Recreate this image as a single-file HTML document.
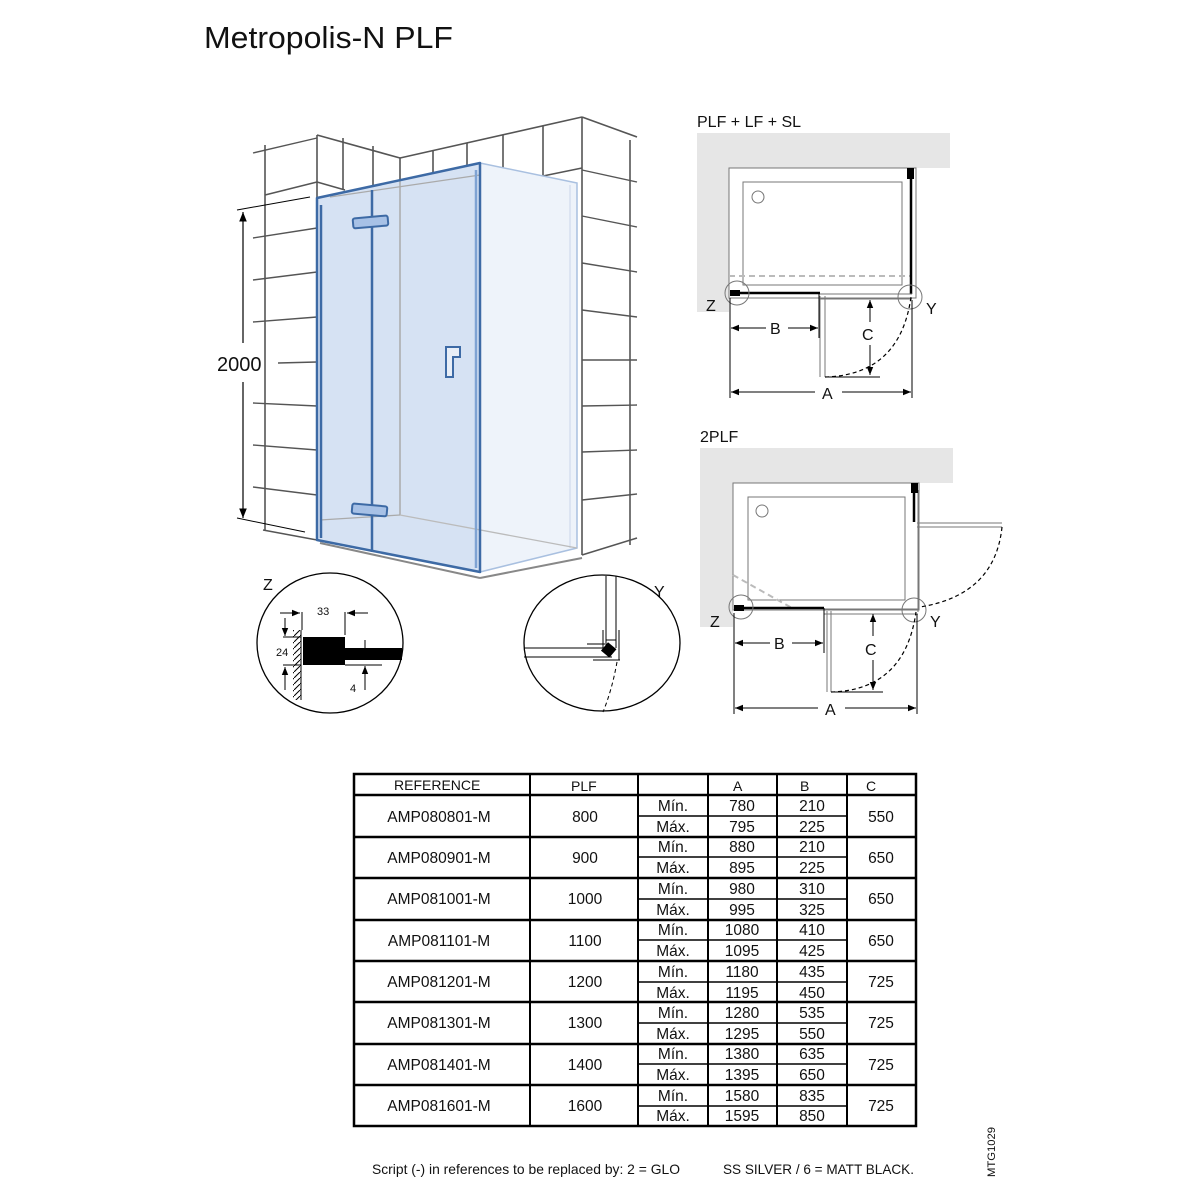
<!DOCTYPE html>
<html><head><meta charset="utf-8"><style>
html,body{margin:0;padding:0;background:#fff}
svg{display:block}
text{font-family:"Liberation Sans",sans-serif;fill:#111}
</style></head><body>
<svg width="1200" height="1200" viewBox="0 0 1200 1200" xmlns="http://www.w3.org/2000/svg">
<defs>
<marker id="ar" viewBox="0 0 10 10" refX="10" refY="5" markerWidth="8" markerHeight="8" orient="auto-start-reverse"><path d="M0,1 L10,5 L0,9 z" fill="#000"/></marker>
<pattern id="hatch" width="6" height="6" patternUnits="userSpaceOnUse"><path d="M0,6 L6,0" stroke="#000" stroke-width="1"/></pattern>
</defs>
<rect width="1200" height="1200" fill="#fff"/>
<text x="204" y="48" font-size="31" textLength="249" lengthAdjust="spacingAndGlyphs">Metropolis-N PLF</text>

<g stroke="#555" stroke-width="1.6" fill="none">
<line x1="265" y1="145" x2="265" y2="530"/>
<line x1="317" y1="135" x2="317" y2="198"/>
<line x1="343" y1="138" x2="343" y2="190"/>
<line x1="373" y1="146" x2="373" y2="186"/>
<line x1="400" y1="158" x2="400" y2="180"/>
<line x1="317" y1="135" x2="400" y2="158"/>
<line x1="265" y1="195" x2="317" y2="182"/>
<line x1="317" y1="182" x2="345" y2="190"/>
<line x1="400" y1="158" x2="582" y2="117"/>
<line x1="433" y1="150" x2="433" y2="175"/>
<line x1="467" y1="143" x2="467" y2="170"/>
<line x1="503" y1="135" x2="503" y2="168"/>
<line x1="543" y1="126" x2="543" y2="176"/>
<line x1="543" y1="176" x2="582" y2="168"/>
<line x1="582" y1="117" x2="582" y2="555"/>
<line x1="582" y1="117" x2="637" y2="137"/>
<line x1="630" y1="140" x2="630" y2="545"/>
<line x1="582" y1="555" x2="637" y2="538"/>
</g>
<g stroke="#555" stroke-width="1.4">
<line x1="253" y1="153" x2="317" y2="138"/>
<line x1="253" y1="238" x2="317" y2="228"/>
<line x1="253" y1="280" x2="317" y2="272"/>
<line x1="253" y1="322" x2="317" y2="317"/>
<line x1="278" y1="363" x2="317" y2="362"/>
<line x1="253" y1="403" x2="317" y2="406"/>
<line x1="253" y1="445" x2="317" y2="450"/>
<line x1="253" y1="487" x2="317" y2="495"/>
<line x1="263" y1="530" x2="317" y2="540"/>
<line x1="582" y1="170" x2="637" y2="182"/>
<line x1="582" y1="216" x2="637" y2="227"/>
<line x1="582" y1="263" x2="637" y2="272"/>
<line x1="582" y1="310" x2="637" y2="317"/>
<line x1="582" y1="360" x2="637" y2="360"/>
<line x1="582" y1="406" x2="637" y2="405"/>
<line x1="582" y1="452" x2="637" y2="450"/>
<line x1="582" y1="500" x2="637" y2="494"/>
</g>
<line x1="243" y1="212" x2="243" y2="343" stroke="#000" stroke-width="1.2" marker-start="url(#ar)"/>
<line x1="243" y1="382" x2="243" y2="518" stroke="#000" stroke-width="1.2" marker-end="url(#ar)"/>
<line x1="237" y1="210" x2="310" y2="197" stroke="#000" stroke-width="1"/>
<line x1="237" y1="518" x2="305" y2="532" stroke="#000" stroke-width="1"/>
<text x="217" y="371" font-size="20">2000</text>

<polygon points="480,163 577,183 577,548 480,572" fill="#eef3fa" stroke="#a9c0e0" stroke-width="1.5"/>
<line x1="570" y1="185" x2="570" y2="548" stroke="#c9d6ea" stroke-width="1"/>
<polygon points="317,198 480,163 480,572 317,540" fill="#d6e2f3"/>
<line x1="400" y1="180" x2="400" y2="515" stroke="#aaa" stroke-width="1.5"/>
<line x1="320" y1="520" x2="400" y2="515" stroke="#aaa" stroke-width="1.3"/>
<line x1="400" y1="515" x2="577" y2="548" stroke="#bbb" stroke-width="1.3"/>
<line x1="330" y1="197" x2="480" y2="175" stroke="#aaa" stroke-width="1.3"/>
<g stroke="#3d6aa5" fill="none" stroke-width="2.5" stroke-linejoin="round">
<polygon points="317,198 480,163 480,572 317,540"/>
<line x1="321" y1="205" x2="321" y2="538"/>
<line x1="372" y1="190" x2="372" y2="552"/>
<line x1="476" y1="170" x2="476" y2="568" stroke="#7fa3d3"/>
</g>
<line x1="320" y1="543" x2="480" y2="578" stroke="#888" stroke-width="2"/>
<line x1="480" y1="578" x2="582" y2="558" stroke="#888" stroke-width="2"/>
<g stroke="#3d6aa5" stroke-width="2" fill="#a7c1e6">
<rect x="353" y="217" width="35" height="10" rx="2" transform="rotate(-5 370 222)"/>
<rect x="352" y="505" width="35" height="10" rx="2" transform="rotate(5 370 510)"/>
<path d="M446,347 h14 v10 h-7 v20 h-7 z" fill="#e8eef7"/>
</g>

<text x="263" y="590" font-size="16">Z</text>
<ellipse cx="330" cy="643" rx="73" ry="70" fill="none" stroke="#000" stroke-width="1.3"/>
<rect x="293" y="630" width="8" height="70" fill="url(#hatch)"/>
<line x1="301" y1="630" x2="301" y2="700" stroke="#000" stroke-width="1"/>
<rect x="303" y="637" width="42" height="28" fill="#000"/>
<rect x="345" y="648" width="57" height="12" fill="#000"/>
<line x1="302" y1="612" x2="302" y2="630" stroke="#000"/>
<line x1="345" y1="612" x2="345" y2="635" stroke="#000"/>
<line x1="280" y1="613" x2="300" y2="613" stroke="#000" marker-end="url(#ar)"/>
<line x1="368" y1="613" x2="347" y2="613" stroke="#000" marker-end="url(#ar)"/>
<text x="317" y="615" font-size="11">33</text>
<line x1="283" y1="637" x2="301" y2="637" stroke="#000"/>
<line x1="283" y1="665" x2="301" y2="665" stroke="#000"/>
<line x1="285" y1="618" x2="285" y2="636" stroke="#000" marker-end="url(#ar)"/>
<line x1="285" y1="690" x2="285" y2="667" stroke="#000" marker-end="url(#ar)"/>
<text x="276" y="656" font-size="11">24</text>
<line x1="345" y1="665" x2="382" y2="665" stroke="#000"/>
<line x1="365" y1="640" x2="365" y2="659" stroke="#000" marker-end="url(#ar)"/>
<line x1="365" y1="690" x2="365" y2="666" stroke="#000" marker-end="url(#ar)"/>
<text x="350" y="692" font-size="11">4</text>

<text x="654" y="597" font-size="16">Y</text>
<ellipse cx="602" cy="643" rx="78" ry="68" fill="none" stroke="#000" stroke-width="1.3"/>
<g stroke="#000" stroke-width="1" fill="none">
<line x1="606" y1="576" x2="606" y2="648"/>
<line x1="616" y1="576" x2="616" y2="648"/>
<line x1="606" y1="640" x2="616" y2="640"/>
<line x1="524" y1="648" x2="608" y2="648"/>
<line x1="524" y1="657" x2="612" y2="657"/>
<line x1="587" y1="644" x2="605" y2="644"/>
<line x1="593" y1="660" x2="620" y2="660"/>
<line x1="603" y1="630" x2="603" y2="650"/>
<line x1="619" y1="630" x2="619" y2="660"/>
<path d="M617,662 Q612,690 603,712" stroke-dasharray="4,3"/>
</g>
<rect x="603" y="644" width="11" height="11" fill="#000" transform="rotate(40 608 650)"/>

<text x="697" y="127" font-size="16">PLF + LF + SL</text>
<path d="M697,133 H950 V168 H729 V312 H697 Z" fill="#e6e6e6"/>
<g fill="none" stroke="#777" stroke-width="1">
<rect x="729" y="168" width="187" height="130"/>
<rect x="743" y="182" width="159" height="103"/>
<circle cx="758" cy="197" r="6"/>
</g>
<line x1="729" y1="276" x2="911" y2="276" stroke="#bbb" stroke-width="2" stroke-dasharray="6,4"/>
<line x1="911" y1="176" x2="911" y2="294" stroke="#000" stroke-width="2.5"/>
<rect x="907" y="168" width="7" height="11" fill="#000"/>
<line x1="735" y1="293" x2="820" y2="293" stroke="#000" stroke-width="2.5"/>
<rect x="730" y="290" width="10" height="6" fill="#000"/>
<g stroke="#777" stroke-width="1" fill="none">
<line x1="820" y1="294" x2="912" y2="294"/>
<line x1="820" y1="299" x2="912" y2="299"/>
<line x1="825" y1="296" x2="825" y2="377"/>
<line x1="820" y1="296" x2="820" y2="377"/>
<circle cx="737" cy="293" r="12"/>
<circle cx="910" cy="297" r="12"/>
</g>
<path d="M825,377 Q900,375 911,297" fill="none" stroke="#000" stroke-dasharray="4,3" stroke-width="1.2"/>
<g stroke="#000" stroke-width="1" fill="none">
<line x1="825" y1="377" x2="880" y2="377"/>
<line x1="870" y1="300" x2="870" y2="322" marker-start="url(#ar)"/>
<line x1="870" y1="345" x2="870" y2="375" marker-end="url(#ar)"/>
<line x1="730" y1="298" x2="730" y2="398"/>
<line x1="912" y1="300" x2="912" y2="398"/>
<line x1="819" y1="293" x2="819" y2="338"/>
<line x1="731" y1="328" x2="766" y2="328" marker-start="url(#ar)"/>
<line x1="788" y1="328" x2="818" y2="328" marker-end="url(#ar)"/>
<line x1="731" y1="392" x2="815" y2="392" marker-start="url(#ar)"/>
<line x1="842" y1="392" x2="911" y2="392" marker-end="url(#ar)"/>
</g>
<text x="770" y="334" font-size="16">B</text>
<text x="862" y="340" font-size="16">C</text>
<text x="822" y="399" font-size="16">A</text>
<text x="706" y="311" font-size="16">Z</text>
<text x="926" y="314" font-size="16">Y</text>

<text x="700" y="442" font-size="16">2PLF</text>
<path d="M700,448 H953 V483 H733 V627 H700 Z" fill="#e6e6e6"/>
<g fill="none" stroke="#777" stroke-width="1">
<rect x="733" y="483" width="186" height="127"/>
<rect x="748" y="497" width="157" height="103"/>
<circle cx="762" cy="511" r="6"/>
<line x1="917" y1="523" x2="1002" y2="523"/>
<line x1="917" y1="527" x2="1002" y2="527"/>
<line x1="918" y1="490" x2="918" y2="612"/>
</g>
<line x1="733" y1="575" x2="792" y2="608" stroke="#bbb" stroke-width="2" stroke-dasharray="6,4"/>
<line x1="914" y1="490" x2="914" y2="522" stroke="#000" stroke-width="2.5"/>
<rect x="911" y="483" width="7" height="10" fill="#000"/>
<line x1="738" y1="608" x2="824" y2="608" stroke="#000" stroke-width="2.5"/>
<rect x="734" y="605" width="10" height="6" fill="#000"/>
<g stroke="#777" stroke-width="1" fill="none">
<line x1="824" y1="609" x2="918" y2="609"/>
<line x1="824" y1="614" x2="918" y2="614"/>
<line x1="827" y1="611" x2="827" y2="692"/>
<line x1="831" y1="611" x2="831" y2="692"/>
<circle cx="741" cy="607" r="12"/>
<circle cx="914" cy="610" r="12"/>
</g>
<path d="M831,692 Q905,690 916,612" fill="none" stroke="#000" stroke-dasharray="4,3" stroke-width="1.2"/>
<path d="M1002,527 Q995,595 920,607" fill="none" stroke="#000" stroke-dasharray="4,3" stroke-width="1.2"/>
<g stroke="#000" stroke-width="1" fill="none">
<line x1="831" y1="692" x2="883" y2="692"/>
<line x1="873" y1="614" x2="873" y2="636" marker-start="url(#ar)"/>
<line x1="873" y1="660" x2="873" y2="690" marker-end="url(#ar)"/>
<line x1="734" y1="613" x2="734" y2="714"/>
<line x1="917" y1="614" x2="917" y2="714"/>
<line x1="824" y1="608" x2="824" y2="653"/>
<line x1="735" y1="643" x2="770" y2="643" marker-start="url(#ar)"/>
<line x1="792" y1="643" x2="823" y2="643" marker-end="url(#ar)"/>
<line x1="735" y1="708" x2="818" y2="708" marker-start="url(#ar)"/>
<line x1="845" y1="708" x2="916" y2="708" marker-end="url(#ar)"/>
</g>
<text x="774" y="649" font-size="16">B</text>
<text x="865" y="655" font-size="16">C</text>
<text x="825" y="715" font-size="16">A</text>
<text x="710" y="627" font-size="16">Z</text>
<text x="930" y="627" font-size="16">Y</text>

<rect x="354" y="774" width="562" height="352" fill="none" stroke="#000" stroke-width="2.5"/>
<g stroke="#000" stroke-width="2">
<line x1="530" y1="774" x2="530" y2="1126"/>
<line x1="638" y1="774" x2="638" y2="1126"/>
<line x1="708" y1="774" x2="708" y2="1126"/>
<line x1="777" y1="774" x2="777" y2="1126"/>
<line x1="847" y1="774" x2="847" y2="1126"/>
<line x1="354" y1="795" x2="916" y2="795" stroke-width="2.5"/>
</g>
<text x="394" y="790" font-size="14">REFERENCE</text>
<text x="571" y="791" font-size="14">PLF</text>
<text x="733" y="791" font-size="14">A</text>
<text x="800" y="791" font-size="14">B</text>
<text x="866" y="791" font-size="14">C</text>
<g font-size="15.5" text-anchor="middle">
<line x1="354" y1="837" x2="916" y2="837" stroke="#000" stroke-width="2.5"/>
<line x1="354" y1="878" x2="916" y2="878" stroke="#000" stroke-width="2.5"/>
<line x1="354" y1="920" x2="916" y2="920" stroke="#000" stroke-width="2.5"/>
<line x1="354" y1="961" x2="916" y2="961" stroke="#000" stroke-width="2.5"/>
<line x1="354" y1="1002" x2="916" y2="1002" stroke="#000" stroke-width="2.5"/>
<line x1="354" y1="1044" x2="916" y2="1044" stroke="#000" stroke-width="2.5"/>
<line x1="354" y1="1085" x2="916" y2="1085" stroke="#000" stroke-width="2.5"/>
<g stroke="#000" stroke-width="1.5">
<line x1="638" y1="816" x2="847" y2="816"/>
<line x1="638" y1="857" x2="847" y2="857"/>
<line x1="638" y1="899" x2="847" y2="899"/>
<line x1="638" y1="940" x2="847" y2="940"/>
<line x1="638" y1="982" x2="847" y2="982"/>
<line x1="638" y1="1023" x2="847" y2="1023"/>
<line x1="638" y1="1064" x2="847" y2="1064"/>
<line x1="638" y1="1106" x2="847" y2="1106"/>
</g>
<text x="439" y="822">AMP080801-M</text><text x="585" y="822">800</text><text x="673" y="811">Mín.</text><text x="673" y="832">Máx.</text><text x="742" y="811">780</text><text x="742" y="832">795</text><text x="812" y="811">210</text><text x="812" y="832">225</text><text x="881" y="822">550</text>
<text x="439" y="863">AMP080901-M</text><text x="585" y="863">900</text><text x="673" y="852">Mín.</text><text x="673" y="873">Máx.</text><text x="742" y="852">880</text><text x="742" y="873">895</text><text x="812" y="852">210</text><text x="812" y="873">225</text><text x="881" y="863">650</text>
<text x="439" y="904">AMP081001-M</text><text x="585" y="904">1000</text><text x="673" y="894">Mín.</text><text x="673" y="915">Máx.</text><text x="742" y="894">980</text><text x="742" y="915">995</text><text x="812" y="894">310</text><text x="812" y="915">325</text><text x="881" y="904">650</text>
<text x="439" y="946">AMP081101-M</text><text x="585" y="946">1100</text><text x="673" y="935">Mín.</text><text x="673" y="956">Máx.</text><text x="742" y="935">1080</text><text x="742" y="956">1095</text><text x="812" y="935">410</text><text x="812" y="956">425</text><text x="881" y="946">650</text>
<text x="439" y="987">AMP081201-M</text><text x="585" y="987">1200</text><text x="673" y="977">Mín.</text><text x="673" y="998">Máx.</text><text x="742" y="977">1180</text><text x="742" y="998">1195</text><text x="812" y="977">435</text><text x="812" y="998">450</text><text x="881" y="987">725</text>
<text x="439" y="1028">AMP081301-M</text><text x="585" y="1028">1300</text><text x="673" y="1018">Mín.</text><text x="673" y="1039">Máx.</text><text x="742" y="1018">1280</text><text x="742" y="1039">1295</text><text x="812" y="1018">535</text><text x="812" y="1039">550</text><text x="881" y="1028">725</text>
<text x="439" y="1070">AMP081401-M</text><text x="585" y="1070">1400</text><text x="673" y="1059">Mín.</text><text x="673" y="1080">Máx.</text><text x="742" y="1059">1380</text><text x="742" y="1080">1395</text><text x="812" y="1059">635</text><text x="812" y="1080">650</text><text x="881" y="1070">725</text>
<text x="439" y="1111">AMP081601-M</text><text x="585" y="1111">1600</text><text x="673" y="1101">Mín.</text><text x="673" y="1121">Máx.</text><text x="742" y="1101">1580</text><text x="742" y="1121">1595</text><text x="812" y="1101">835</text><text x="812" y="1121">850</text><text x="881" y="1111">725</text>
</g>
<text x="372" y="1174" font-size="14" textLength="308" lengthAdjust="spacingAndGlyphs">Script (-) in references to be replaced by: 2 = GLO</text>
<text x="723" y="1174" font-size="14" textLength="191" lengthAdjust="spacingAndGlyphs">SS SILVER / 6 = MATT BLACK.</text>
<text transform="translate(995,1177) rotate(-90)" font-size="11" textLength="50" lengthAdjust="spacingAndGlyphs">MTG1029</text>
</svg>
</body></html>
